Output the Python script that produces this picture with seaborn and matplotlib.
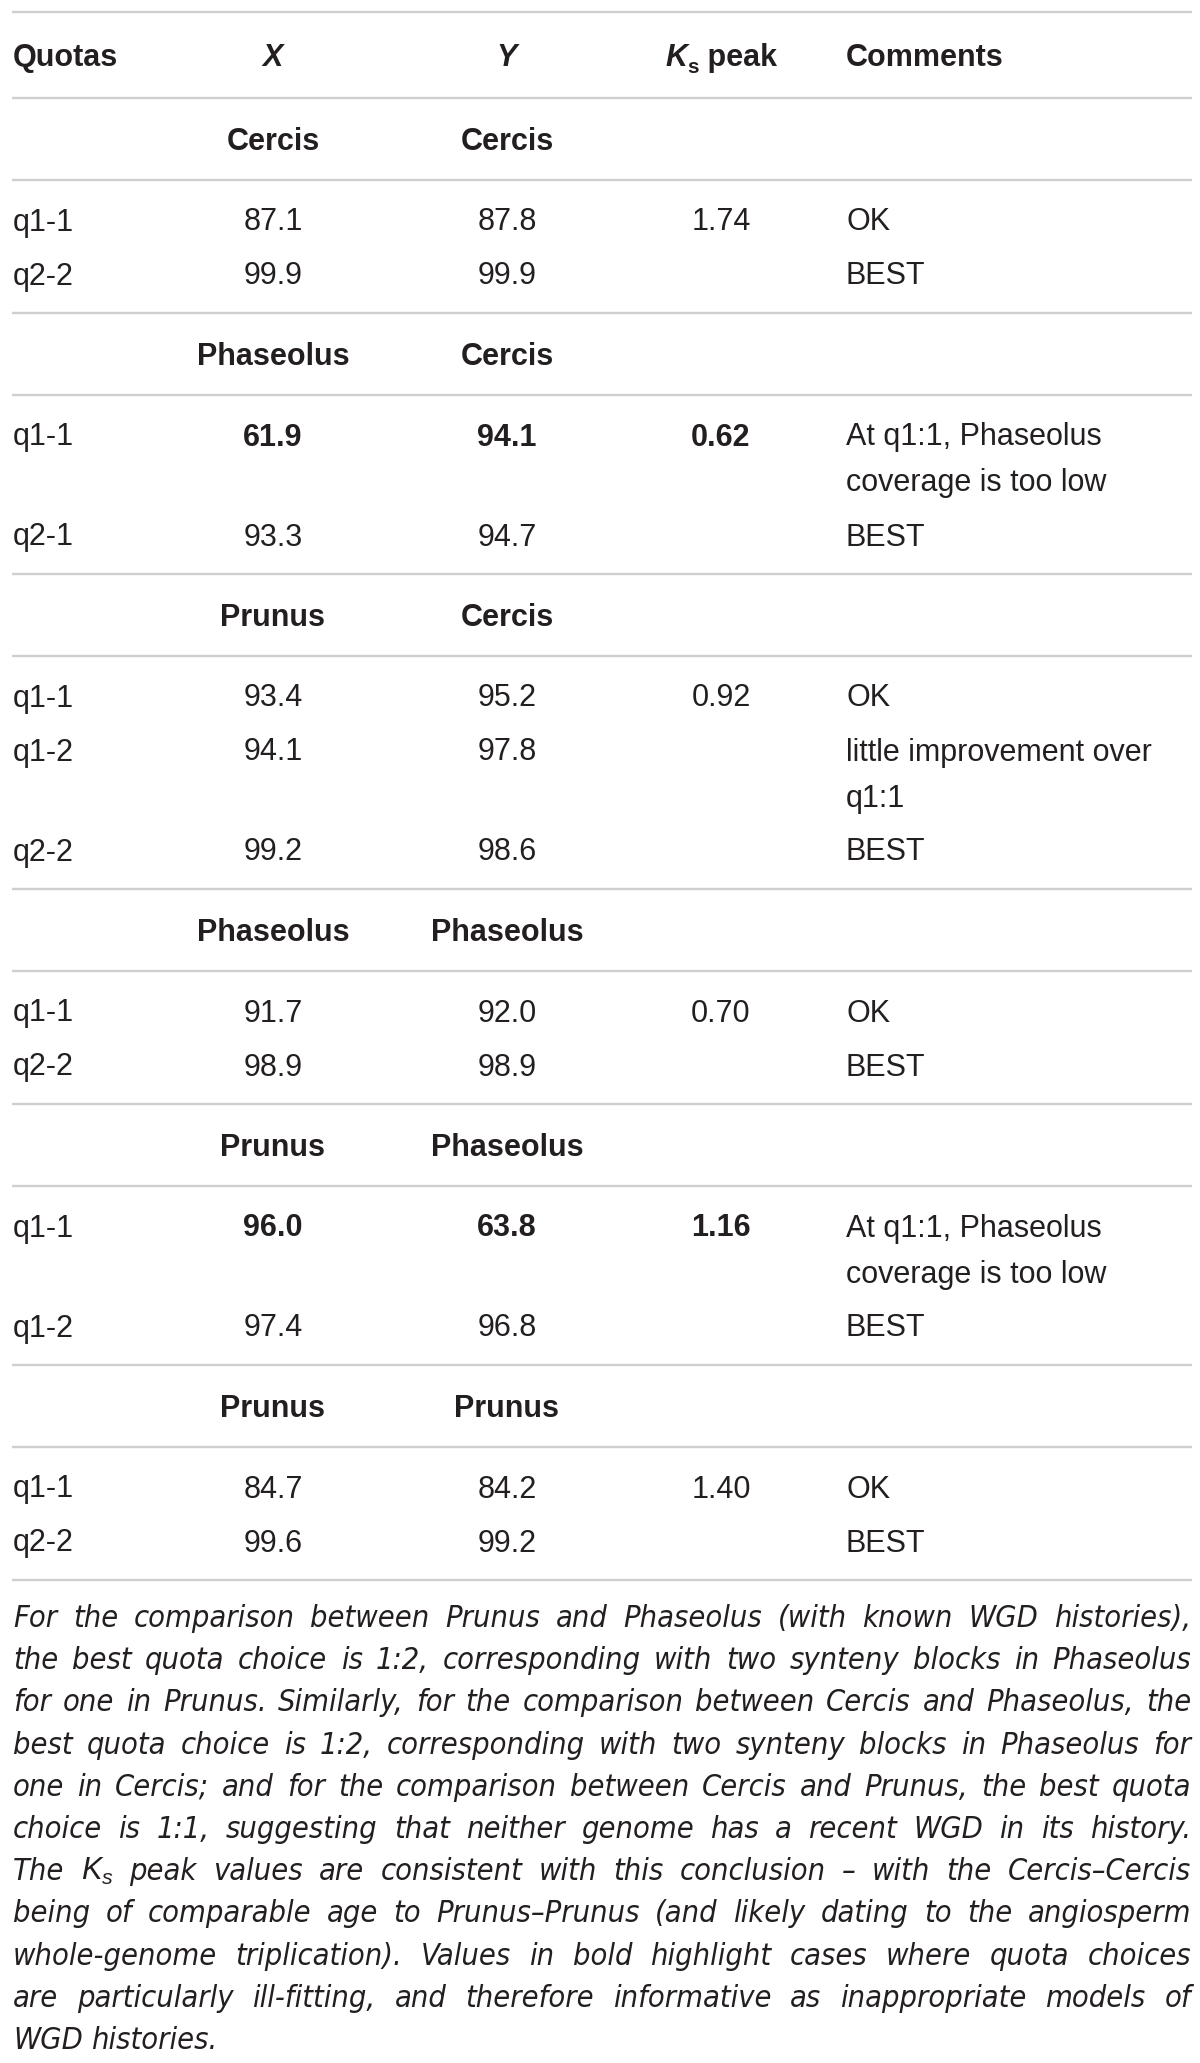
import matplotlib
matplotlib.use("Agg")
import matplotlib.pyplot as plt
from matplotlib import font_manager
import seaborn as sns

# table contents
group_x = ["Cercis", "Phaseolus", "Prunus", "Phaseolus", "Prunus", "Prunus"]
group_y = ["Cercis", "Cercis", "Cercis", "Phaseolus", "Phaseolus", "Prunus"]
quotas = [["q1-1", "q2-2"], ["q1-1", "q2-1"], ["q1-1", "q1-2", "q2-2"],
          ["q1-1", "q2-2"], ["q1-1", "q1-2"], ["q1-1", "q2-2"]]
x_cov = [[87.1, 99.9], [61.9, 93.3], [93.4, 94.1, 99.2],
         [91.7, 98.9], [96.0, 97.4], [84.7, 99.6]]
y_cov = [[87.8, 99.9], [94.1, 94.7], [95.2, 97.8, 98.6],
         [92.0, 98.9], [63.8, 96.8], [84.2, 99.2]]
ks_peak = ["1.74", "0.62", "0.92", "0.70", "1.16", "1.40"]
comments = [["OK", "BEST"],
            ["At q1:1, Phaseolus\ncoverage is too low", "BEST"],
            ["OK", "little improvement over\nq1:1", "BEST"],
            ["OK", "BEST"],
            ["At q1:1, Phaseolus\ncoverage is too low", "BEST"],
            ["OK", "BEST"]]
bold_first = [False, True, False, False, True, False]

caption = [
    "For the comparison between Prunus and Phaseolus (with known WGD histories),",
    "the best quota choice is 1:2, corresponding with two synteny blocks in Phaseolus",
    "for one in Prunus. Similarly, for the comparison between Cercis and Phaseolus, the",
    "best quota choice is 1:2, corresponding with two synteny blocks in Phaseolus for",
    "one in Cercis; and for the comparison between Cercis and Prunus, the best quota",
    "choice is 1:1, suggesting that neither genome has a recent WGD in its history.",
    "The $K_s$ peak values are consistent with this conclusion \u2013 with the Cercis\u2013Cercis",
    "being of comparable age to Prunus\u2013Prunus (and likely dating to the angiosperm",
    "whole-genome triplication). Values in bold highlight cases where quota choices",
    "are particularly ill-fitting, and therefore informative as inappropriate models of",
    "WGD histories.",
]

sns.set_theme(style="white")
plt.rcParams["font.family"] = ["Liberation Sans", "DejaVu Sans"]
plt.rcParams["mathtext.fontset"] = "custom"
plt.rcParams["mathtext.rm"] = "Liberation Sans"
plt.rcParams["mathtext.it"] = "Liberation Sans:italic"
plt.rcParams["mathtext.bf"] = "Liberation Sans:bold"

# a narrow face for the caption, if one is installed
cap_family = ["Liberation Sans", "DejaVu Sans"]
cap_stretch = "normal"
for fam, stretch in [("Liberation Sans Narrow", "normal"), ("DejaVu Sans", "condensed")]:
    try:
        path = font_manager.findfont(font_manager.FontProperties(family=fam, style="italic",
                                                                 stretch=stretch),
                                     fallback_to_default=False)
        if ("Narrow" in path) or ("Condensed" in path):
            cap_family = [fam, "DejaVu Sans"]
            cap_stretch = stretch
            if fam.startswith("Liberation"):
                plt.rcParams["mathtext.it"] = "Liberation Sans Narrow:italic"
            break
    except Exception:
        pass

W, H = 1200, 2063
fig = plt.figure(figsize=(W / 100, H / 100), dpi=100)
ax = fig.add_axes([0, 0, 1, 1])
ax.set_xlim(0, W)
ax.set_ylim(H, 0)
ax.axis("off")
renderer = fig.canvas.get_renderer()

ink = "#231f20"
rule_c = "#cfcfcf"
fs = 22
cap_half = fs * 100 / 72 * 0.36  # half cap height in px

col_q, col_x, col_y, col_ks, col_c = 13, 273, 507, 721, 846
left, right = 12, 1192
pad_lbl = 41
pad_edge = 39.5
step = 54
extra = 46


def rule(y):
    ax.plot([left, right], [y, y], color=rule_c, lw=1.7, solid_capstyle="butt")


def put(x, yc, s, ha="center", **kw):
    kw.setdefault("fontsize", fs)
    kw.setdefault("color", ink)
    return ax.text(x, yc + cap_half, s, ha=ha, va="baseline", **kw)


def width(t):
    return t.get_window_extent(renderer).width


# header
y = 12
rule(y)
hy = y + 43
put(col_q, hy, "Quotas", ha="left", fontweight="bold")
put(col_x, hy, "X", fontweight="bold", fontstyle="italic")
put(col_y, hy, "Y", fontweight="bold", fontstyle="italic")
put(col_c, hy, "Comments", ha="left", fontweight="bold")
parts = [put(0, hy, "K", ha="left", fontweight="bold", fontstyle="italic"),
         put(0, hy + 7, "s", ha="left", fontweight="bold", fontsize=fs * 0.68),
         put(0, hy, " peak", ha="left", fontweight="bold")]
ws = [width(p) for p in parts]
x0 = col_ks - sum(ws) / 2
for p, w in zip(parts, ws):
    p.set_x(x0)
    x0 += w
y += 86
rule(y)

for g in range(len(group_x)):
    put(col_x, y + pad_lbl, group_x[g], fontweight="bold")
    put(col_y, y + pad_lbl, group_y[g], fontweight="bold")
    y += 2 * pad_lbl
    rule(y)
    y += pad_edge
    for r in range(len(quotas[g])):
        wt = "bold" if (bold_first[g] and r == 0) else "normal"
        put(col_q, y, quotas[g][r], ha="left")
        put(col_x, y, f"{x_cov[g][r]:.1f}", fontweight=wt)
        put(col_y, y, f"{y_cov[g][r]:.1f}", fontweight=wt)
        if r == 0:
            put(col_ks, y, ks_peak[g], fontweight=wt)
        lines = comments[g][r].split("\n")
        for k, ln in enumerate(lines):
            put(col_c, y + k * extra, ln, ha="left")
        y += (len(lines) - 1) * extra
        if r < len(quotas[g]) - 1:
            y += step
    y += pad_edge
    rule(y)

# justified italic caption
ckw = dict(fontstyle="italic", family=cap_family, fontstretch=cap_stretch)
cfs = 23
probe = [ax.text(0, 0, ln, fontsize=cfs, **ckw) for ln in caption]
widest = max(width(t) for t in probe)
for t in probe:
    t.remove()
avail = right - left - 2
if widest > avail * 0.97:
    cfs = cfs * avail * 0.97 / widest

cy = y + 36
for i, ln in enumerate(caption):
    words = ln.split(" ")
    objs = [ax.text(0, cy + cfs * 100 / 72 * 0.36, w, fontsize=cfs, color=ink,
                    va="baseline", ha="left", **ckw) for w in words]
    wl = [width(o) for o in objs]
    if i < len(caption) - 1:
        gap = (avail - sum(wl)) / (len(words) - 1)
    else:
        gap = cfs * 100 / 72 * 0.26
    xx = left + 1
    for o, w in zip(objs, wl):
        o.set_x(xx)
        xx += w + gap
    cy += 42.2

fig.savefig("out.png", dpi=100, facecolor="white")
